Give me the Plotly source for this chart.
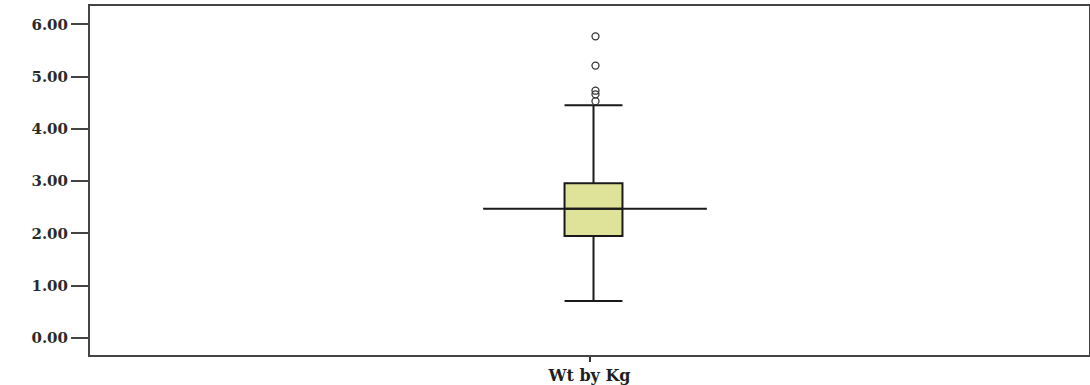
import plotly.graph_objects as go

category = ["Wt by Kg"]
q1 = [1.95]
median = [2.47]
q3 = [2.96]
lower_whisker = [0.71]
upper_whisker = [4.45]
outliers = [5.77, 5.21, 4.73, 4.66, 4.53]
y_ticks = [0, 1, 2, 3, 4, 5, 6]
y_tick_labels = ["0.00", "1.00", "2.00", "3.00", "4.00", "5.00", "6.00"]

font_family = "DejaVu Serif, Liberation Serif, serif"

fig = go.Figure()
fig.add_trace(go.Box(
    x=[0.008], q1=q1, median=median, q3=q3,
    lowerfence=lower_whisker, upperfence=upper_whisker,
    width=0.116, whiskerwidth=1.0,
    fillcolor="#dfe39a", line=dict(color="#1a1a1a", width=2),
    boxpoints=False, showlegend=False, hoverinfo="skip",
))
fig.add_trace(go.Scatter(
    x=[-0.213, 0.235], y=[median[0], median[0]], mode="lines",
    line=dict(color="#1a1a1a", width=2), showlegend=False, hoverinfo="skip",
))
fig.add_trace(go.Scatter(
    x=[0.012] * len(outliers), y=outliers, mode="markers",
    marker=dict(symbol="circle-open", size=7, color="#333333", line=dict(width=1.3)),
    showlegend=False,
))

fig.update_layout(
    width=1090, height=385,
    margin=dict(l=90, r=1, t=6, b=30, autoexpand=False),
    paper_bgcolor="white", plot_bgcolor="white",
    font=dict(family=font_family, color="#222222"),
    xaxis=dict(
        range=[-1, 1], tickvals=[0], ticktext=category, automargin=False,
        ticks="outside", ticklen=5, tickwidth=2, tickcolor="#333333",
        showgrid=False, zeroline=False,
        showline=True, linecolor="#444444", linewidth=2, mirror=True,
        tickfont=dict(size=16, family=font_family, color="#1f1f1f", weight="bold"),
    ),
    yaxis=dict(
        range=[-0.325, 6.35], tickvals=y_ticks, ticktext=y_tick_labels, automargin=False,
        ticks="outside", ticklen=17, tickwidth=1.5, tickcolor="#444444",
        showgrid=False, zeroline=False,
        showline=True, linecolor="#444444", linewidth=2, mirror=True,
        tickfont=dict(size=15, family=font_family, color="#2a2a2a", weight="bold"),
    ),
)

fig.write_html(
    "out.html",
    config={"displayModeBar": False},
    post_script="document.body.style.margin='0';document.body.style.overflow='hidden';",
)
